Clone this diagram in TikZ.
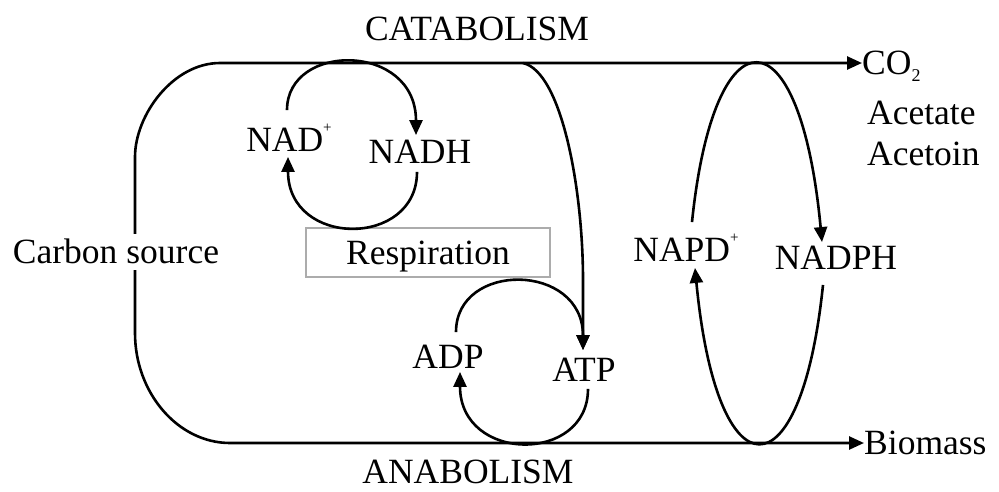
\documentclass[tikz,border=0pt]{standalone}
\usepackage{fontspec}
\setmainfont{Liberation Serif}
\usetikzlibrary{arrows.meta,calc}
\pgfdeclarelayer{back}
\pgfsetlayers{back,main}
% small raised plus and lowered 2 for the ion / formula labels
\newcommand\plussup{\raisebox{19pt}{\fontsize{15}{15}\selectfont +}}
\newcommand\twosub{\raisebox{-7pt}{\fontsize{18}{18}\selectfont 2}}

\begin{document}
\begin{tikzpicture}[x=1pt,y=-1pt,
  lbl/.style={inner sep=0pt, text height=23.5pt, text depth=0pt,
              font=\fontsize{35.5}{40}\selectfont},
  ln/.style={line width=2.6pt},
  flow/.style={ln, -{Triangle[length=15pt,width=13pt]}},
  twoway/.style={ln, {Triangle[length=15pt,width=13pt]}-{Triangle[length=15pt,width=13pt]}},
  boxed/.style={lbl, draw=gray!65, line width=1.3pt, minimum width=244pt,
                minimum height=49pt}]
\useasboundingbox (0,0) rectangle (999,491);

% labels
\node[lbl] (cat) at (477,29) {CATABOLISM};
\node[lbl] (ana) at (468,472) {ANABOLISM};
\node[lbl, fill=white, inner ysep=6pt] (carbon) at (116,252) {Carbon source};
\node[lbl, anchor=west] (co2) at (862,63) {CO\twosub};
\node[lbl, anchor=west] (acetate) at (867,113) {Acetate};
\node[lbl, anchor=west] (acetoin) at (867,154) {Acetoin};
\node[lbl, anchor=west] (biomass) at (864,443) {Biomass};
\node[lbl] (nad) at (289,140) {NAD\plussup};
\node[lbl] (nadh) at (420,152) {NADH};
\node[boxed] (resp) at (428,252.5) {Respiration};
\node[lbl] (adp) at (448,357) {ADP};
\node[lbl] (atp) at (584,370) {ATP};
\node[lbl] (napd) at (686,250) {NAPD\plussup};
\node[lbl] (nadph) at (836,258) {NADPH};

% main carbon flow: carbon source splits to products (top) and biomass (bottom)
\begin{pgfonlayer}{back}
\draw[twoway] (co2.west) -- (220,63)
  .. controls (173,63) and (135,115) .. (135,157) -- (135,333)
  .. controls (135,393) and (178,443) .. (230,443) -- (biomass.west);
\end{pgfonlayer}

% catabolic branch feeding ATP
\coordinate (branch) at (523,63);
\draw[flow] (branch) .. controls (562,72) and (583,190) .. (583,280)
  -- ($(atp.north)+(-1,-8)$);

% NAD+/NADH cycle
\draw[flow] ($(nad.north)+(-2,-18)$) .. controls +(0,-68) and +(0,-93) ..
  ($(nadh.north)+(-4,-5)$);
\draw[flow] ($(nadh.south)+(-3,8)$) .. controls +(0,76) and +(0,91) ..
  ($(nad.south)+(-1,5)$);

% ADP/ATP cycle
\draw[flow] ($(adp.north)+(8,-13)$) .. controls +(0,-71) and +(0,-88) ..
  ($(atp.north)+(-1,-8)$);
\draw[flow] ($(atp.south)+(4,7)$) .. controls +(0,75) and +(0,91) ..
  ($(adp.south)+(12,3)$);

% NADP+/NADPH cycle
\draw[flow] ($(napd.north)+(6,-16)$) .. controls +(22,-214) and +(-22,-234) ..
  ($(nadph.north)+(-14,-4)$);
\draw[flow] ($(nadph.south)+(-13,15)$) .. controls +(-22,213) and +(22,230) ..
  ($(napd.south)+(9,6)$);
\end{tikzpicture}
\end{document}
